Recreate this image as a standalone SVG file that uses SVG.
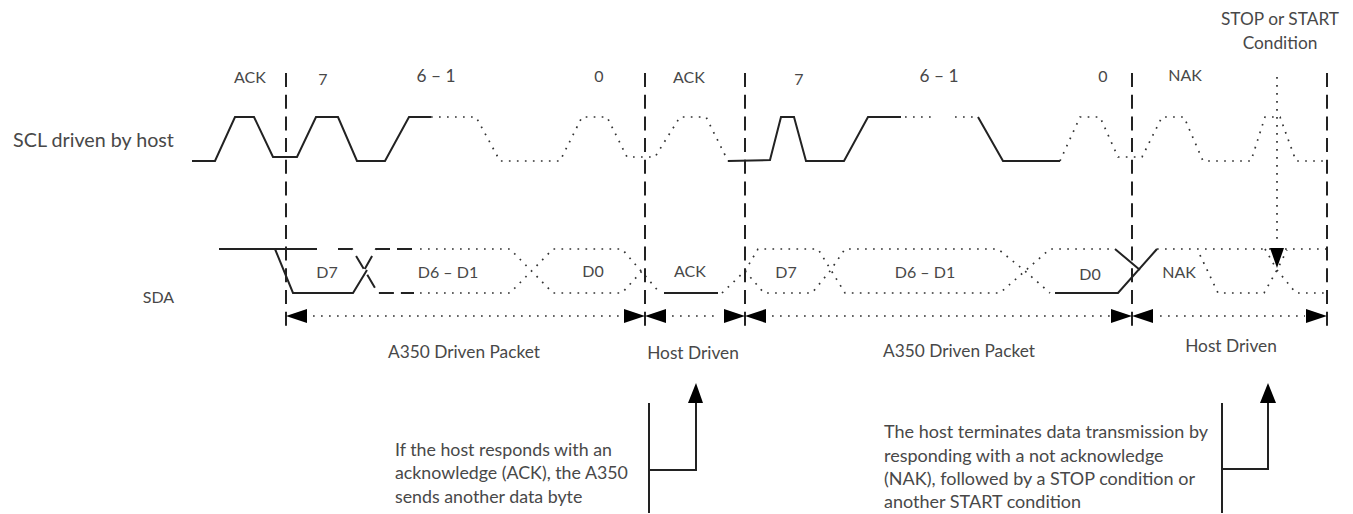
<svg xmlns="http://www.w3.org/2000/svg" width="1353" height="514" viewBox="0 0 1353 514">
<style>
text{font-family:Lato,"Liberation Sans",sans-serif;font-size:16px;font-weight:400;fill:#484848;text-anchor:middle}
text.l{text-anchor:start;font-size:17.8px}
text.r{text-anchor:start;font-size:18px}
text.b{font-size:17.3px}
.s,.d,.v,.k,.m{fill:none;stroke:#222}
.s{stroke-width:2}
.d{stroke-width:1.7;stroke-dasharray:1.7 6.3;stroke:#333}
.m{stroke-width:2;stroke-dasharray:15 7}
.v{stroke-width:2;stroke-dasharray:14 7.7}
.k{stroke-width:2}
.h{fill:#000}
</style>
<g id="connectors">
<g id="scl">
<path class="s" d="M192 161H215L235 117H254L273 157H297L316 117H338L357 161H385L409 117H431"/>
<path class="d" d="M431 117H476L500 161H560L582 117H607L627 157H655L680 117H706L728 161"/>
<path class="s" d="M728 161L770 160L781 117H794L806 161H844L868 117H901"/>
<path class="d" d="M905 117H937M955 117H978"/>
<path class="s" d="M978 117L1003 161H1060"/>
<path class="d" d="M1060 161L1080 117H1100L1118 157H1142L1162 117H1184L1203 161H1251L1265 117H1280L1296 161H1327"/>
</g>
<g id="sda">
<path class="s" d="M219 249H317"/>
<path class="s" d="M275 249L293 293H353L367 270"/>
<path class="m" d="M338 249H352L378 293H414"/>
<path class="m" d="M412 249H376L362 274"/>
<path class="d" d="M420 249H510L553 293H622L642 271M420 293H510L553 249H622L660 293"/>
<path class="s" d="M664 293H718"/>
<path class="d" d="M722 293L745 271L764 293H812L830 271L845 249H998L1025 271L1050 293M745 271L758 249H818L845 293H1000L1025 271L1050 249H1115"/>
<path class="s" d="M1115 249L1140 270M1055 293H1118L1157 249"/>
<path class="d" d="M1157 249H1327M1200 255L1218 293H1264L1277 270L1287 250M1265 249L1277 270L1296 293H1327"/>
</g>
<g id="markers">
<path class="v" d="M286 73V330M645 73V330M745 73V330M1132 73V330M1327 73V330"/>
<path class="d" d="M1277 77V240"/>
<path class="h" d="M1270 248H1284L1277 268Z"/>
<path class="d" d="M313 316H625M672 316H720M772 316H1110M1160 316H1305"/>
<path class="h" d="M286 316L307 309V323ZM645 316L624 309V323ZM645 316L666 309V323ZM745 316L724 309V323ZM745 316L766 309V323ZM1132 316L1111 309V323ZM1132 316L1153 309V323ZM1327 316L1306 309V323Z"/>
</g>
<g id="callouts">
<path class="k" d="M649 403V513M649 470H696V402"/>
<path class="h" d="M688 403H703L696 383Z"/>
<path class="k" d="M1222 403V513M1222 469H1268V402"/>
<path class="h" d="M1260 403H1276L1268 383Z"/>
</g>
</g>
<g id="labels">
<text x="250" y="83">ACK</text>
<text x="323" y="85">7</text>
<text x="436" y="82" class="b">6 – 1</text>
<text x="599" y="82">0</text>
<text x="689" y="83">ACK</text>
<text x="799" y="85">7</text>
<text x="939" y="82" class="b">6 – 1</text>
<text x="1103" y="82">0</text>
<text x="1185" y="81">NAK</text>
<text x="1280" y="25" class="b">STOP or START</text>
<text x="1280" y="49" class="b">Condition</text>
<text x="93.500" y="147" style="font-size:19.700px">SCL driven by host</text>
<text x="158.500" y="303">SDA</text>
<text x="327" y="278">D7</text>
<text x="448" y="278">D6 – D1</text>
<text x="593" y="277">D0</text>
<text x="690" y="277">ACK</text>
<text x="786" y="278">D7</text>
<text x="925" y="278">D6 – D1</text>
<text x="1090" y="280">D0</text>
<text x="1179" y="278">NAK</text>
<text x="464" y="358" class="b">A350 Driven Packet</text>
<text x="693" y="359" class="b">Host Driven</text>
<text x="959" y="357" class="b">A350 Driven Packet</text>
<text x="1231" y="352" class="b">Host Driven</text>
<text class="l" x="395" y="456">If the host responds with an</text>
<text class="l" x="395" y="479">acknowledge (ACK), the A350</text>
<text class="l" x="395" y="503">sends another data byte</text>
<text class="r" x="884" y="438">The host terminates data transmission by</text>
<text class="r" x="884" y="462">responding with a not acknowledge</text>
<text class="r" x="884" y="485">(NAK), followed by a STOP condition or</text>
<text class="r" x="884" y="508">another START condition</text>
</g>
</svg>
